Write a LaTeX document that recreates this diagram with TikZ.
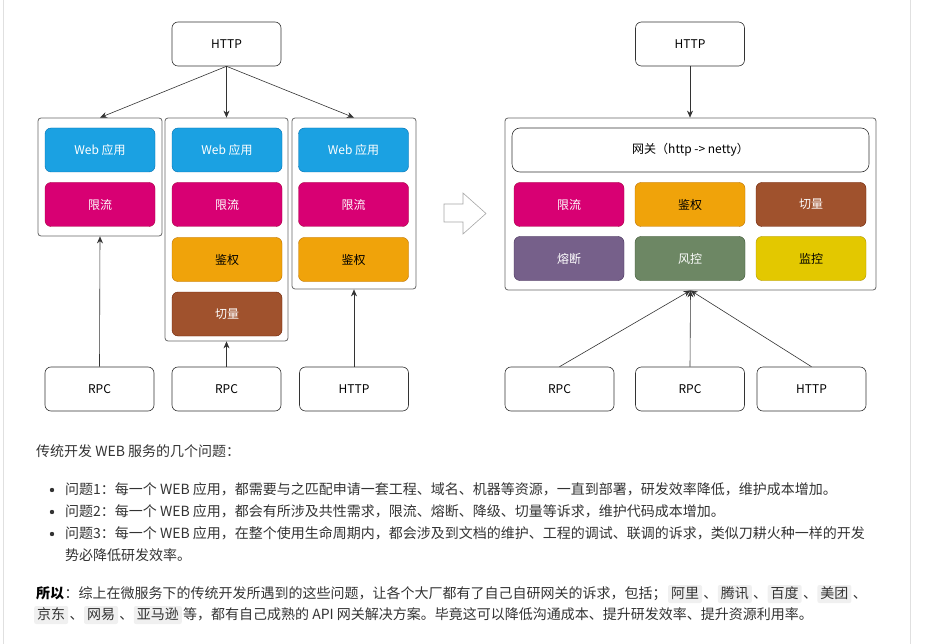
\documentclass[tikz,border=0pt]{standalone}
\usepackage{fontspec}
\newfontfamily\cjk{Noto Sans CJK SC}
\usetikzlibrary{arrows.meta,positioning}

\definecolor{webblue}{HTML}{1BA1E2}\definecolor{webblueline}{HTML}{006EAF}
\definecolor{limitpink}{HTML}{D80073}\definecolor{limitpinkline}{HTML}{A50040}
\definecolor{authorange}{HTML}{F0A30A}\definecolor{authorangeline}{HTML}{BD7000}
\definecolor{cutbrown}{HTML}{A0522D}\definecolor{cutbrownline}{HTML}{6D1F00}
\definecolor{fusepurple}{HTML}{76608A}\definecolor{fusepurpleline}{HTML}{432D57}
\definecolor{riskgreen}{HTML}{6D8764}\definecolor{riskgreenline}{HTML}{3A5431}
\definecolor{watchyellow}{HTML}{E3C800}\definecolor{watchyellowline}{HTML}{B09500}
\definecolor{txt}{HTML}{333333}

\tikzset{
	endbox/.style={draw=black!80, fill=white, rounded corners=6pt, line width=0.6pt,
		minimum width=109pt, minimum height=44pt, font=\cjk\fontsize{12}{14}\selectfont},
	frame/.style={draw=black!60, fill=white, rounded corners=3pt, line width=0.8pt},
	tile/.style={rounded corners=6pt, line width=0.4pt, minimum width=110pt, minimum height=44pt,
		text=white, font=\cjk\fontsize{12}{14}\selectfont},
	flow/.style={draw=black!80, line width=0.6pt, -{Stealth[length=7pt,width=6pt]}},
	para/.style={anchor=west, inner sep=0pt, text=txt, text height=11pt, text depth=3pt,
		font=\cjk\fontsize{14}{16}\selectfont},
	codebox/.style={para, fill=black!6, rounded corners=2pt, inner xsep=3pt, inner ysep=2pt}
}

\begin{document}
\begin{tikzpicture}[x=1pt, y=-1pt]
			%%%%% START %%%%%
			\useasboundingbox (0, 0) rectangle (947, 644);
			\draw[black!12, line width=1pt] (3, 0) -- (3, 644);
			\draw[black!12, line width=1pt] (910, 0) -- (910, 644);
			
			% left: every web app has its own stack
			\node[endbox] (httpL) at (226.5, 44) {HTTP};
			
			\node[frame, minimum width=124pt, minimum height=118pt] (appA) at (100, 177) {};
			\node[frame, minimum width=123pt, minimum height=223pt] (appB) at (226.5, 229.5) {};
			\node[frame, minimum width=124pt, minimum height=171pt] (appC) at (354, 203.5) {};
			
			\node[tile, fill=webblue, draw=webblueline] (webA) at (100, 150) {Web 应用};
			\node[tile, fill=limitpink, draw=limitpinkline] (limitA) at (100, 204.5) {限流};
			
			\node[tile, fill=webblue, draw=webblueline] (webB) at (227, 150) {Web 应用};
			\node[tile, fill=limitpink, draw=limitpinkline] (limitB) at (227, 204.5) {限流};
			\node[tile, fill=authorange, draw=authorangeline, text=black] (authB) at (227, 259.5) {鉴权};
			\node[tile, fill=cutbrown, draw=cutbrownline] (cutB) at (227, 314) {切量};
			
			\node[tile, fill=webblue, draw=webblueline] (webC) at (353.5, 150) {Web 应用};
			\node[tile, fill=limitpink, draw=limitpinkline] (limitC) at (353.5, 204.5) {限流};
			\node[tile, fill=authorange, draw=authorangeline, text=black] (authC) at (353.5, 259.5) {鉴权};
			
			\node[endbox] (rpcA) at (99.5, 389) {RPC};
			\node[endbox] (rpcB) at (226.5, 389) {RPC};
			\node[endbox] (httpC) at (354, 389) {HTTP};
			
			\draw[flow] (httpL.south) -- (appA.north);
			\draw[flow] (httpL.south) -- (appB.north);
			\draw[flow] (httpL.south) -- (appC.north);
			\draw[flow] (rpcA.north) -- (appA.south);
			\draw[flow] (rpcB.north) -- (appB.south);
			\draw[flow] (httpC.north) -- (appC.south);
			
			% hollow arrow
			\draw[black!35, fill=white, line width=0.6pt] (444, 204) -- (463, 204) -- (463, 193) -- (486, 213.5)
				-- (463, 234) -- (463, 222) -- (444, 222) -- cycle;
			
			% right: one gateway in front
			\node[endbox] (httpR) at (690, 44) {HTTP};
			\node[frame, minimum width=371pt, minimum height=172pt] (gw) at (690.5, 204) {};
			\node[endbox, minimum width=357pt, rounded corners=8pt] (gwbox) at (690.5, 150) {网关（http -> netty）};
			
			\node[tile, fill=limitpink, draw=limitpinkline] (limitR) at (569, 204.5) {限流};
			\node[tile, fill=authorange, draw=authorangeline, text=black] (authR) at (690, 204.5) {鉴权};
			\node[tile, fill=cutbrown, draw=cutbrownline] (cutR) at (811, 204.5) {切量};
			\node[tile, fill=fusepurple, draw=fusepurpleline] (fuseR) at (569, 258.5) {熔断};
			\node[tile, fill=riskgreen, draw=riskgreenline] (riskR) at (690, 258.5) {风控};
			\node[tile, fill=watchyellow, draw=watchyellowline, text=black] (watchR) at (811, 258.5) {监控};
			
			\node[endbox] (rpcR1) at (559.5, 389) {RPC};
			\node[endbox] (rpcR2) at (690, 389) {RPC};
			\node[endbox] (httpR3) at (811.5, 389) {HTTP};
			
			\draw[flow] (httpR.south) -- (gw.north -| httpR.south);
			\draw[flow] (rpcR1.north) -- (gw.south);
			\draw[flow] (rpcR2.north) -- (gw.south);
			\draw[flow] (httpR3.north) -- (gw.south);
			
			% text below
			\node[para] (head) at (36, 452) {传统开发 WEB 服务的几个问题：};
			
			\foreach \y in {490, 512, 534} \fill[txt] (52, \y) circle (2.2);
			\node[para] (q1) at (65, 490) {问题1：每一个 WEB 应用，都需要与之匹配申请一套工程、域名、机器等资源，一直到部署，研发效率降低，维护成本增加。};
			\node[para] (q2) at (65, 512) {问题2：每一个 WEB 应用，都会有所涉及共性需求，限流、熔断、降级、切量等诉求，维护代码成本增加。};
			\node[para] (q3) at (65, 534) {问题3：每一个 WEB 应用，在整个使用生命周期内，都会涉及到文档的维护、工程的调试、联调的诉求，类似刀耕火种一样的开发};
			\node[para] (q3b) at (65, 556) {势必降低研发效率。};
			
			\node[para, text=black] (so) at (36, 594) {\bfseries 所以};
			\node[para, right=0pt of so] (so1) {：综上在微服务下的传统开发所遇到的这些问题，让各个大厂都有了自己自研网关的诉求，包括；};
			\node[codebox, right=1pt of so1] (ali) {阿里};
			\node[para, right=1pt of ali] (s1) {、};
			\node[codebox, right=0pt of s1] (tencent) {腾讯};
			\node[para, right=1pt of tencent] (s2) {、};
			\node[codebox, right=0pt of s2] (baidu) {百度};
			\node[para, right=1pt of baidu] (s3) {、};
			\node[codebox, right=0pt of s3] (meituan) {美团};
			\node[para, right=1pt of meituan] (s4) {、};
			
			\node[codebox] (jd) at (34, 615) {京东};
			\node[para, right=1pt of jd] (s5) {、};
			\node[codebox, right=0pt of s5] (netease) {网易};
			\node[para, right=1pt of netease] (s6) {、};
			\node[codebox, right=0pt of s6] (amazon) {亚马逊};
			\node[para, right=1pt of amazon] (so2) {等，都有自己成熟的 API 网关解决方案。毕竟这可以降低沟通成本、提升研发效率、提升资源利用率。};
			%%%%% END %%%%%
\end{tikzpicture}
\end{document}
